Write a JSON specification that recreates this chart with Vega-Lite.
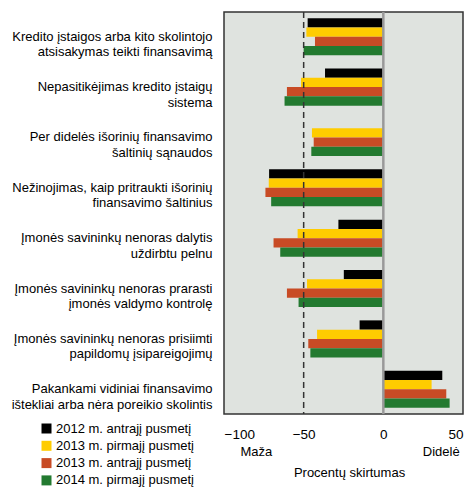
{
  "$schema": "https://vega.github.io/schema/vega-lite/v6.json",
  "width": 239,
  "height": 402,
  "autosize": {"type": "none"},
  "padding": {"left": 224, "top": 12, "right": 9, "bottom": 77},
  "config": {
    "font": "Liberation Sans",
    "view": {"fill": "#dfe3df", "stroke": "#333333", "strokeWidth": 1.5}
  },
  "datasets": {
    "bars": [
      {"cat": "Kredito įstaigos arba kito skolintojo|atsisakymas teikti finansavimą", "series": "2012 m. antrajį pusmetį", "value": -47.5},
      {"cat": "Kredito įstaigos arba kito skolintojo|atsisakymas teikti finansavimą", "series": "2013 m. pirmajį pusmetį", "value": -48.3},
      {"cat": "Kredito įstaigos arba kito skolintojo|atsisakymas teikti finansavimą", "series": "2013 m. antrajį pusmetį", "value": -42.9},
      {"cat": "Kredito įstaigos arba kito skolintojo|atsisakymas teikti finansavimą", "series": "2014 m. pirmajį pusmetį", "value": -50},
      {"cat": "Nepasitikėjimas kredito įstaigų|sistema", "series": "2012 m. antrajį pusmetį", "value": -36.6},
      {"cat": "Nepasitikėjimas kredito įstaigų|sistema", "series": "2013 m. pirmajį pusmetį", "value": -51.7},
      {"cat": "Nepasitikėjimas kredito įstaigų|sistema", "series": "2013 m. antrajį pusmetį", "value": -60.5},
      {"cat": "Nepasitikėjimas kredito įstaigų|sistema", "series": "2014 m. pirmajį pusmetį", "value": -62},
      {"cat": "Per didelės išorinių finansavimo|šaltinių sąnaudos", "series": "2013 m. pirmajį pusmetį", "value": -44.8},
      {"cat": "Per didelės išorinių finansavimo|šaltinių sąnaudos", "series": "2013 m. antrajį pusmetį", "value": -43.7},
      {"cat": "Per didelės išorinių finansavimo|šaltinių sąnaudos", "series": "2014 m. pirmajį pusmetį", "value": -45.2},
      {"cat": "Nežinojimas, kaip pritraukti išorinių|finansavimo šaltinius", "series": "2012 m. antrajį pusmetį", "value": -71.7},
      {"cat": "Nežinojimas, kaip pritraukti išorinių|finansavimo šaltinius", "series": "2013 m. pirmajį pusmetį", "value": -71.9},
      {"cat": "Nežinojimas, kaip pritraukti išorinių|finansavimo šaltinius", "series": "2013 m. antrajį pusmetį", "value": -74},
      {"cat": "Nežinojimas, kaip pritraukti išorinių|finansavimo šaltinius", "series": "2014 m. pirmajį pusmetį", "value": -70.4},
      {"cat": "Įmonės savininkų nenoras dalytis|uždirbtu pelnu", "series": "2012 m. antrajį pusmetį", "value": -28.2},
      {"cat": "Įmonės savininkų nenoras dalytis|uždirbtu pelnu", "series": "2013 m. pirmajį pusmetį", "value": -53.8},
      {"cat": "Įmonės savininkų nenoras dalytis|uždirbtu pelnu", "series": "2013 m. antrajį pusmetį", "value": -68.9},
      {"cat": "Įmonės savininkų nenoras dalytis|uždirbtu pelnu", "series": "2014 m. pirmajį pusmetį", "value": -64.7},
      {"cat": "Įmonės savininkų nenoras prarasti|įmonės valdymo kontrolę", "series": "2012 m. antrajį pusmetį", "value": -24.8},
      {"cat": "Įmonės savininkų nenoras prarasti|įmonės valdymo kontrolę", "series": "2013 m. pirmajį pusmetį", "value": -47.9},
      {"cat": "Įmonės savininkų nenoras prarasti|įmonės valdymo kontrolę", "series": "2013 m. antrajį pusmetį", "value": -60.5},
      {"cat": "Įmonės savininkų nenoras prarasti|įmonės valdymo kontrolę", "series": "2014 m. pirmajį pusmetį", "value": -53.2},
      {"cat": "Įmonės savininkų nenoras prisiimti|papildomų įsipareigojimų", "series": "2012 m. antrajį pusmetį", "value": -14.9},
      {"cat": "Įmonės savininkų nenoras prisiimti|papildomų įsipareigojimų", "series": "2013 m. pirmajį pusmetį", "value": -41.6},
      {"cat": "Įmonės savininkų nenoras prisiimti|papildomų įsipareigojimų", "series": "2013 m. antrajį pusmetį", "value": -47.1},
      {"cat": "Įmonės savininkų nenoras prisiimti|papildomų įsipareigojimų", "series": "2014 m. pirmajį pusmetį", "value": -45.8},
      {"cat": "Pakankami vidiniai finansavimo|ištekliai arba nėra poreikio skolintis", "series": "2012 m. antrajį pusmetį", "value": 37},
      {"cat": "Pakankami vidiniai finansavimo|ištekliai arba nėra poreikio skolintis", "series": "2013 m. pirmajį pusmetį", "value": 30.3},
      {"cat": "Pakankami vidiniai finansavimo|ištekliai arba nėra poreikio skolintis", "series": "2013 m. antrajį pusmetį", "value": 39.5},
      {"cat": "Pakankami vidiniai finansavimo|ištekliai arba nėra poreikio skolintis", "series": "2014 m. pirmajį pusmetį", "value": 41.6}
    ]
  },
  "layer": [
    {
      "data": {"name": "bars"},
      "mark": {"type": "bar"},
      "encoding": {
        "y": {
          "field": "cat", "type": "nominal", "sort": null,
          "scale": {"paddingInner": 0.264, "paddingOuter": 0.123},
          "axis": {"title": null, "labelExpr": "split(datum.label, '|')", "domain": false, "ticks": false, "labelPadding": 12, "labelFontSize": 13, "labelLineHeight": 15.5, "labelColor": "#000000", "labelLimit": 300}
        },
        "yOffset": {
          "field": "series", "type": "nominal",
          "sort": ["2012 m. antrajį pusmetį", "2013 m. pirmajį pusmetį", "2013 m. antrajį pusmetį", "2014 m. pirmajį pusmetį"],
          "scale": {"domain": ["2012 m. antrajį pusmetį", "2013 m. pirmajį pusmetį", "2013 m. antrajį pusmetį", "2014 m. pirmajį pusmetį"], "paddingInner": 0, "paddingOuter": 0}
        },
        "x": {
          "field": "value", "type": "quantitative",
          "scale": {"domain": [-100, 50], "nice": false, "zero": false},
          "axis": {"values": [-100, -50, 0, 50], "title": null, "grid": false, "domain": false, "ticks": false, "labelPadding": 13, "labelFontSize": 13.5, "labelColor": "#000000"}
        },
        "color": {
          "field": "series", "type": "nominal",
          "scale": {"domain": ["2012 m. antrajį pusmetį", "2013 m. pirmajį pusmetį", "2013 m. antrajį pusmetį", "2014 m. pirmajį pusmetį"], "range": ["#000000", "#ffcc00", "#c84b25", "#237a30"]},
          "legend": {"title": null, "orient": "none", "legendX": -184, "legendY": 410, "symbolType": "square", "symbolSize": 100, "symbolStrokeWidth": 0, "labelFontSize": 13, "labelColor": "#000000", "rowPadding": 3.3, "labelOffset": 3, "labelLimit": 300}
        }
      }
    },
    {
      "data": {"values": [{"v": 0}]},
      "mark": {"type": "rule", "color": "#999999", "strokeWidth": 2.5},
      "encoding": {"x": {"field": "v", "type": "quantitative", "axis": null}}
    },
    {
      "data": {"values": [{"v": -50}]},
      "mark": {"type": "rule", "color": "#333333", "strokeWidth": 1.5, "strokeDash": [6, 4]},
      "encoding": {
        "x": {
          "field": "v", "type": "quantitative",
          "axis": {"orient": "bottom", "values": [-80, 36], "labelExpr": "datum.value < 0 ? 'Maža' : 'Didelė'", "grid": false, "domain": false, "ticks": false, "labelPadding": 31, "labelFontSize": 13, "labelColor": "#000000", "title": "Procentų skirtumas", "titleFontSize": 13, "titleFontWeight": "normal", "titleColor": "#000000", "titlePadding": 8, "titleX": 125}
        }
      }
    }
  ],
  "resolve": {"axis": {"x": "independent"}}
}
